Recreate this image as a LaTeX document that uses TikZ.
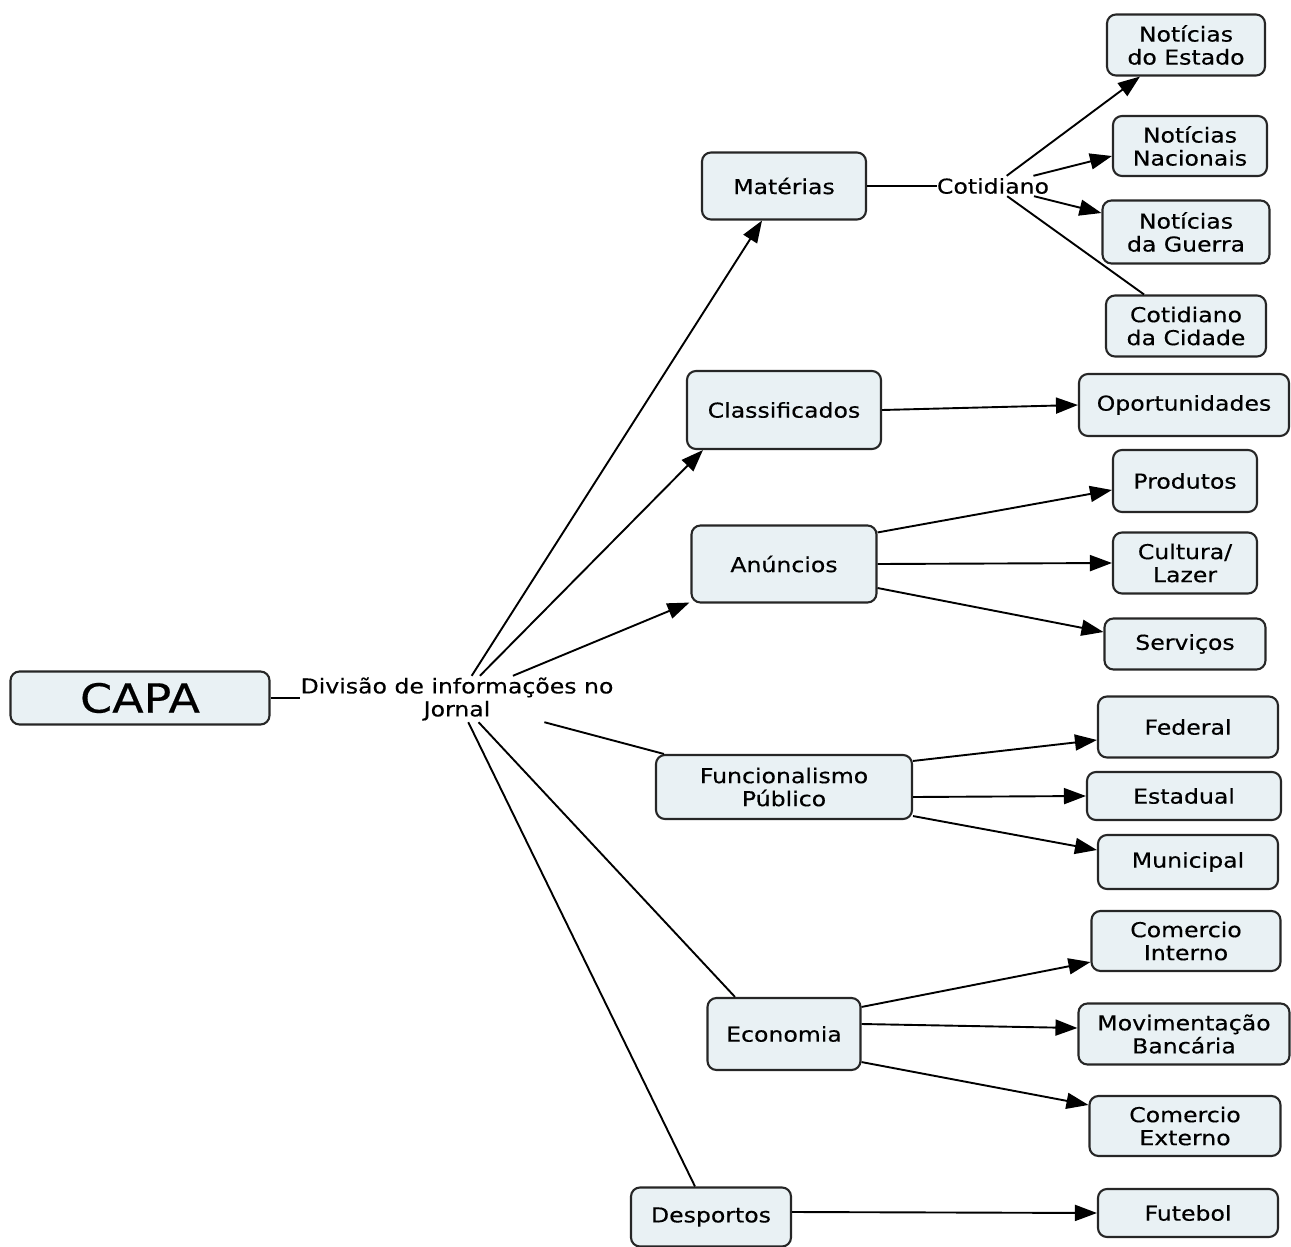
\documentclass[tikz,border=0pt]{standalone}
\usepackage{fontspec}
\setmainfont{DejaVu Sans}[FakeStretch=1.15,FakeBold=0.4]
\usetikzlibrary{arrows.meta}
\definecolor{boxfill}{HTML}{E9F1F4}
\definecolor{boxline}{HTML}{262626}
\tikzset{
  bx/.style={draw=boxline, line width=2.1pt, fill=boxfill, rounded corners=9pt,
    align=center, inner sep=0pt, font=\fontsize{20.5}{23}\selectfont},
  lbl/.style={inner sep=0pt, align=center, font=\fontsize{20.5}{23}\selectfont},
  ln/.style={line width=1.9pt, draw=black},
  arr/.style={ln, -{Triangle[length=22pt,width=16pt]}},
}
\begin{document}
\begin{tikzpicture}[x=1pt,y=-1pt]
\useasboundingbox (0,0) rectangle (1291,1247);
% root
\node[bx, minimum width=259pt, minimum height=53pt, font=\fontsize{40}{44}\selectfont] (cap) at (140,698) {CAPA};
\node[lbl, minimum height=46pt] (div) at (457,699) {Divisão de informações no\\Jornal};
% level 1
\node[bx, minimum width=164pt, minimum height=67pt] (mat) at (784,186) {Matérias};
\node[bx, minimum width=194pt, minimum height=78pt] (cla) at (784,410) {Classificados};
\node[bx, minimum width=185pt, minimum height=77pt] (anu) at (784,564) {Anúncios};
\node[bx, minimum width=256pt, minimum height=64pt] (fun) at (784,787) {Funcionalismo\\Público};
\node[bx, minimum width=153pt, minimum height=72pt] (eco) at (784,1034) {Economia};
\node[bx, minimum width=160pt, minimum height=59pt] (des) at (711,1217) {Desportos};
% Cotidiano
\node[lbl, minimum height=20pt] (cot) at (993,186) {Cotidiano};
% level 2
\node[bx, minimum width=158pt, minimum height=61pt] (est) at (1186,45) {Notícias\\do Estado};
\node[bx, minimum width=154pt, minimum height=60pt] (nac) at (1190,146) {Notícias\\Nacionais};
\node[bx, minimum width=167pt, minimum height=63pt] (gue) at (1186,232) {Notícias\\da Guerra};
\node[bx, minimum width=160pt, minimum height=61pt] (cid) at (1186,326) {Cotidiano\\da Cidade};
\node[bx, minimum width=210pt, minimum height=62pt] (opo) at (1184,405) {Oportunidades};
\node[bx, minimum width=144pt, minimum height=62pt] (prd) at (1185,481) {Produtos};
\node[bx, minimum width=144pt, minimum height=61pt] (cul) at (1185,563) {Cultura/\\Lazer};
\node[bx, minimum width=161pt, minimum height=51pt] (ser) at (1185,644) {Serviços};
\node[bx, minimum width=180pt, minimum height=61pt] (fed) at (1188,727) {Federal};
\node[bx, minimum width=194pt, minimum height=48pt] (esd) at (1184,796) {Estadual};
\node[bx, minimum width=180pt, minimum height=54pt] (mun) at (1188,862) {Municipal};
\node[bx, minimum width=189pt, minimum height=60pt] (cin) at (1186,941) {Comercio\\Interno};
\node[bx, minimum width=211pt, minimum height=61pt] (mov) at (1184,1034) {Movimentação\\Bancária};
\node[bx, minimum width=191pt, minimum height=60pt] (cex) at (1185,1126) {Comercio\\Externo};
\node[bx, minimum width=180pt, minimum height=48pt] (fut) at (1188,1213) {Futebol};
% connectors from root
\draw[ln] (cap.east) -- (cap.east -| div.west);
\coordinate (tmat) at ([xshift=-22pt]mat.south);
\coordinate (tcla) at ([xshift=17pt]cla.south west);
\coordinate (tanu) at ([xshift=-1pt,yshift=1pt]anu.south west);
\coordinate (tfun) at ([xshift=9pt]fun.north west);
\coordinate (teco) at ([xshift=-49pt]eco.north);
\coordinate (tdes) at ([xshift=-16pt]des.north);
\draw[arr] (div) -- (tmat);
\draw[arr] (div) -- (tcla);
\draw[arr] (div) -- (tanu);
\draw[ln] (div) -- (tfun);
\draw[ln] (div) -- (teco);
\draw[ln] (div) -- (tdes);
% Materias branch
\draw[ln] (mat.east) -- (cot.west);
\coordinate (test) at ([xshift=-46pt]est.south);
\coordinate (tnac) at ([yshift=-10pt]nac.west);
\coordinate (tgue) at ([yshift=19pt]gue.west);
\coordinate (tcid) at ([xshift=-42pt]cid.north);
\draw[arr] (cot) -- (test);
\draw[arr] (cot) -- (tnac);
\draw[arr] (cot) -- (tgue);
\draw[ln] (cot) -- (tcid);
% Classificados
\draw[arr] (cla.east) -- (opo.west);
% Anuncios
\draw[arr] ([yshift=-8pt]anu.north east) -- ([yshift=-9pt]prd.west);
\draw[arr] (anu.east) -- (cul.west);
\draw[arr] ([yshift=-24pt]anu.east) -- ([yshift=12pt]ser.west);
% Funcionalismo
\draw[arr] ([yshift=-7pt]fun.north east) -- ([yshift=-13pt]fed.west);
\draw[arr] ([yshift=-10pt]fun.east) -- (esd.west);
\draw[arr] ([yshift=4pt]fun.south east) -- ([yshift=12pt]mun.west);
% Economia
\draw[arr] ([yshift=-10pt]eco.north east) -- ([yshift=10pt]cin.south west);
\draw[arr] ([yshift=10pt]eco.east) -- ([yshift=6pt]mov.west);
\draw[arr] ([yshift=9pt]eco.south east) -- ([yshift=-10pt]cex.north west);
% Desportos
\draw[arr] ([yshift=5pt]des.east) -- (fut.west);
\end{tikzpicture}
\end{document}
